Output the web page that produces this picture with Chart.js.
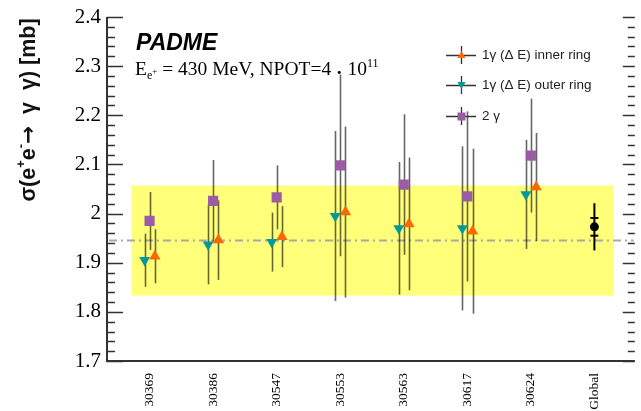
<!DOCTYPE html>
<html><head><meta charset="utf-8">
<script src="https://cdn.jsdelivr.net/npm/chart.js@4.4.1/dist/chart.umd.min.js"></script>
<style>html,body{margin:0;padding:0;background:#fff;}#wrap{width:641px;height:411px;position:relative;}</style>
</head><body><div id="wrap"><canvas id="c" width="641" height="411"></canvas></div>
<script>
// ---- data ----
const categories = ['30369','30386','30547','30553','30563','30617','30624','Global'];
const innerRing    = [1.913, 1.946, 1.953, 2.003, 1.979, 1.964, 2.054];
const innerRingErr = [0.055, 0.081, 0.062, 0.174, 0.135, 0.168, 0.110];
const outerRing    = [1.905, 1.937, 1.942, 1.995, 1.970, 1.970, 2.039];
const outerRingErr = [0.054, 0.081, 0.060, 0.173, 0.135, 0.167, 0.111];
const twoGamma     = [1.985, 2.026, 2.033, 2.098, 2.059, 2.035, 2.118];
const twoGammaErr  = [0.059, 0.083, 0.065, 0.185, 0.143, 0.173, 0.116];
const globalValue = [1.973];
const globalStatErr = [0.018];
const globalTotErr = [0.048];
const meanValue = 1.945;
const meanBand = 0.112;
const yTicks = [1.7,1.8,1.9,2.0,2.1,2.2,2.3,2.4];

// ---- style ----
const OFF_OUTER = -0.078, OFF_INNER = 0.083;
const BAND_X0 = -0.285, BAND_X1 = 7.30;
const C_TEAL = '#009a9a', C_ORANGE = '#ff6600', C_PURPLE = '#9c5ca4', C_YELLOW = '#ffff7a';
const ERR_COLOR = 'rgba(0,0,0,0.6)';

function pts(vals, off){ return vals.map((v,i)=>({x:i+off, y:v})); }

function drawRich(ctx, pieces, x, y, align){
  let w = 0;
  pieces.forEach(p=>{ ctx.font = p.font; w += ctx.measureText(p.t).width; });
  let cx = align === 'center' ? x - w/2 : x;
  ctx.textAlign = 'left';
  pieces.forEach(p=>{ ctx.font = p.font; ctx.fillText(p.t, cx, y + (p.dy||0)); cx += ctx.measureText(p.t).width; });
}

const bgPlugin = {
  id:'bg',
  beforeDatasetsDraw(chart){
    const ctx = chart.ctx, xs = chart.scales.x, ys = chart.scales.y, a = chart.chartArea;
    ctx.save();
    ctx.fillStyle = C_YELLOW;
    const bx0 = xs.getPixelForValue(BAND_X0), bx1 = xs.getPixelForValue(BAND_X1);
    const by0 = ys.getPixelForValue(meanValue + meanBand), by1 = ys.getPixelForValue(meanValue - meanBand);
    ctx.fillRect(bx0, by0, bx1-bx0, by1-by0);
    ctx.strokeStyle = '#a8a8a8'; ctx.lineWidth = 2; ctx.setLineDash([8,4,2,4]);
    const my = ys.getPixelForValue(meanValue);
    ctx.beginPath(); ctx.moveTo(a.left+2, my); ctx.lineTo(a.right, my); ctx.stroke();
    ctx.setLineDash([]);
    ctx.strokeStyle = ERR_COLOR; ctx.lineWidth = 1.6;
    const series = [[outerRing, outerRingErr, OFF_OUTER],[twoGamma, twoGammaErr, 0],[innerRing, innerRingErr, OFF_INNER]];
    series.forEach(([vals, errs, off])=>{
      vals.forEach((v,i)=>{
        const px = Math.round(xs.getPixelForValue(i+off))+0.5;
        ctx.beginPath();
        ctx.moveTo(px, ys.getPixelForValue(v+errs[i]));
        ctx.lineTo(px, ys.getPixelForValue(v-errs[i]));
        ctx.stroke();
      });
    });
    ctx.strokeStyle = '#000'; ctx.lineWidth = 2;
    globalValue.forEach((v,k)=>{
      const px = xs.getPixelForValue(7+k);
      ctx.beginPath();
      ctx.moveTo(px, ys.getPixelForValue(v+globalTotErr[k]));
      ctx.lineTo(px, ys.getPixelForValue(v-globalTotErr[k]));
      ctx.stroke();
      [v+globalStatErr[k], v-globalStatErr[k]].forEach(e=>{
        const py = ys.getPixelForValue(e);
        ctx.beginPath(); ctx.moveTo(px-4, py); ctx.lineTo(px+4, py); ctx.stroke();
      });
    });
    ctx.restore();
  }
};

const fgPlugin = {
  id:'fg',
  afterDraw(chart){
    const ctx = chart.ctx, xs = chart.scales.x, ys = chart.scales.y, a = chart.chartArea;
    ctx.save();
    ctx.strokeStyle = '#333'; ctx.lineWidth = 2;
    ctx.beginPath(); ctx.moveTo(a.left, a.top); ctx.lineTo(a.left, a.bottom); ctx.lineTo(a.right+1, a.bottom); ctx.stroke();
    ctx.lineWidth = 1.4;
    for (let k = 0; k <= 35; k++){
      const v = 1.7 + k*0.02;
      const py = Math.round(ys.getPixelForValue(v))+0.5;
      const major = (k % 5 === 0);
      ctx.beginPath();
      ctx.moveTo(a.left, py); ctx.lineTo(a.left + (major ? 16 : 8), py);
      ctx.moveTo(a.right+1, py); ctx.lineTo(a.right+1 - (major ? 12 : 7), py);
      ctx.stroke();
    }
    // y title
    ctx.fillStyle = '#111'; ctx.textBaseline = 'alphabetic';
    ctx.save();
    ctx.translate(35, 110); ctx.rotate(-Math.PI/2);
    const fB = 'bold 21.5px "Liberation Sans", Arial, sans-serif';
    const fA = 'bold 21.5px "DejaVu Sans", sans-serif';
    const fS = 'bold 13px "Liberation Sans", Arial, sans-serif';
    drawRich(ctx, [
      {t:'σ(e', font:fB},{t:'+', font:fS, dy:-10},{t:'e', font:fB},{t:'-', font:fS, dy:-10},
      {t:'→', font:fA},{t:'  γ  γ) [mb]', font:fB}
    ], 0, 0, 'center');
    ctx.restore();
    // PADME
    ctx.fillStyle = '#000';
    ctx.font = 'italic bold 23px "Liberation Sans", Arial, sans-serif';
    ctx.textAlign = 'left';
    ctx.fillText('PADME', 136, 50);
    // E line
    const fR = '19.5px "Liberation Serif", "Times New Roman", serif';
    const fR2 = '12px "Liberation Serif", "Times New Roman", serif';
    const fR3 = '9px "Liberation Serif", "Times New Roman", serif';
    drawRich(ctx, [
      {t:'E', font:fR},{t:'e', font:fR2, dy:4},{t:'+', font:fR3, dy:-1},
      {t:' = 430 MeV, NPOT=4 ', font:fR},{t:'·', font:'bold ' + fR, dy:4},{t:' 10', font:fR},{t:'11', font:fR2, dy:-8}
    ], 135, 75, 'left');
    // legend
    const legend = [
      {y:55, label:'1γ (Δ E) inner ring', style:'up', color:C_ORANGE},
      {y:85, label:'1γ (Δ E) outer ring', style:'down', color:C_TEAL},
      {y:116, label:'2 γ', style:'rect', color:C_PURPLE}
    ];
    legend.forEach(e=>{
      ctx.strokeStyle = '#333'; ctx.lineWidth = 1.3;
      ctx.beginPath();
      ctx.moveTo(446, e.y+0.5); ctx.lineTo(476, e.y+0.5);
      ctx.moveTo(461.5, e.y-9); ctx.lineTo(461.5, e.y+9);
      ctx.stroke();
      ctx.fillStyle = e.color;
      ctx.beginPath();
      if (e.style === 'up'){ ctx.moveTo(461.5, e.y-4); ctx.lineTo(465.5, e.y+3); ctx.lineTo(457.5, e.y+3); }
      else if (e.style === 'down'){ ctx.moveTo(461.5, e.y+4); ctx.lineTo(465.5, e.y-3); ctx.lineTo(457.5, e.y-3); }
      else { ctx.rect(457.5, e.y-3.5, 8, 8); }
      ctx.closePath(); ctx.fill();
      ctx.fillStyle = '#222';
      ctx.font = '13.5px "Liberation Sans", Arial, sans-serif';
      ctx.textBaseline = 'middle';
      ctx.fillText(e.label, 482, e.y);
      ctx.textBaseline = 'alphabetic';
    });
    ctx.restore();
  }
};

new Chart(document.getElementById('c'), {
  type:'scatter',
  data:{datasets:[
    {label:'1γ (Δ E) outer ring', data:pts(outerRing, OFF_OUTER), pointStyle:'triangle', rotation:180, pointRadius:6.3, backgroundColor:C_TEAL, borderWidth:0},
    {label:'2 γ', data:pts(twoGamma, 0), pointStyle:'rect', pointRadius:7.2, backgroundColor:C_PURPLE, borderWidth:0},
    {label:'1γ (Δ E) inner ring', data:pts(innerRing, OFF_INNER), pointStyle:'triangle', pointRadius:6.5, backgroundColor:C_ORANGE, borderWidth:0},
    {label:'Global', data:globalValue.map((v,k)=>({x:7+k, y:v})), pointStyle:'circle', pointRadius:4.5, backgroundColor:'#000', borderWidth:0}
  ]},
  options:{
    responsive:false, animation:false, devicePixelRatio:1,
    layout:{padding:{left:0, right:1, top:17, bottom:0}},
    plugins:{legend:{display:false}, tooltip:{enabled:false}},
    scales:{
      x:{type:'linear', min:-0.67, max:7.62,
        grid:{display:false, drawTicks:false}, border:{display:false},
        afterBuildTicks:s=>{ s.ticks = categories.map((c,i)=>({value:i})); },
        ticks:{autoSkip:false, minRotation:90, maxRotation:90, padding:12, color:'#000',
          font:{family:'"Liberation Serif", serif', size:13.5},
          callback:(v)=>categories[Math.round(v)]},
        afterFit:s=>{ s.height = 50; s.paddingLeft = 0; s.paddingRight = 0; }
      },
      y:{type:'linear', min:1.7, max:2.4,
        grid:{display:false, drawTicks:false}, border:{display:false},
        afterBuildTicks:s=>{ s.ticks = yTicks.map(v=>({value:v})); },
        ticks:{padding:6, color:'#000', font:{family:'"Liberation Serif", serif', size:21},
          callback:(v)=>String(+(+v).toFixed(1))},
        afterFit:s=>{ s.width = 107; s.paddingTop = 0; s.paddingBottom = 0; }
      }
    }
  },
  plugins:[bgPlugin, fgPlugin]
});
</script></body></html>
